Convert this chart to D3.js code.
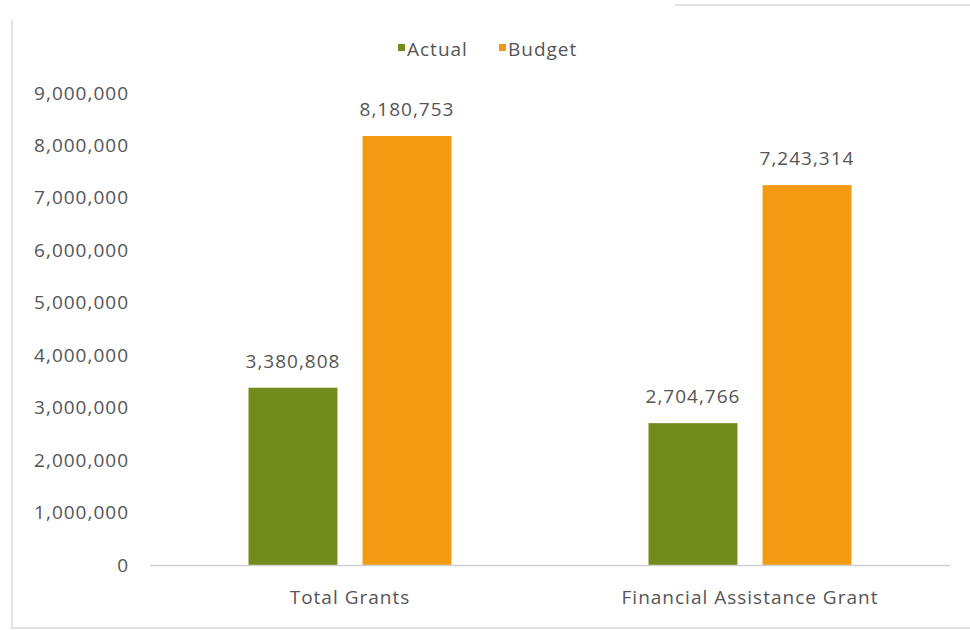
<!DOCTYPE html>
<html>
<head>
<meta charset="utf-8">
<script src="https://cdn.jsdelivr.net/npm/d3@7"></script>
<style>
  html, body { margin: 0; padding: 0; background: #fff; }
  svg { display: block; font-family: "Open Sans", "DejaVu Sans", sans-serif; }
  svg text { letter-spacing: 1px; }
</style>
</head>
<body>
<div id="chart"></div>
<script>
// ─── Data ─────────────────────────────────────────────
const categories = ["Total Grants", "Financial Assistance Grant"];
const seriesNames = ["Actual", "Budget"];
const actualValues = [3380808, 2704766];
const budgetValues = [8180753, 7243314];
const yTicks = [0, 1000000, 2000000, 3000000, 4000000, 5000000, 6000000, 7000000, 8000000, 9000000];

const colors = { Actual: "#738a1c", Budget: "#f29b12" };
const textColor = "#555";

// ─── Layout ───────────────────────────────────────────
const W = 970, H = 630;
const plot = { left: 150, right: 950, top: 93, bottom: 565 };

const svg = d3.select("#chart").append("svg")
    .attr("width", W)
    .attr("height", H);

// faint frame of the original chart box
svg.append("path")
    .attr("d", `M12,20 V628 H970 M675,5 H970`)
    .attr("fill", "none")
    .attr("stroke", "#e2e2e2")
    .attr("stroke-width", 2);

// ─── Scales ───────────────────────────────────────────
const x0 = d3.scaleBand()
    .domain(categories)
    .range([plot.left, plot.right])
    .paddingInner(0.4925)
    .paddingOuter(0.24625);

const x1 = d3.scaleBand()
    .domain(seriesNames)
    .range([0, x0.bandwidth()])
    .paddingInner(0.22)
    .paddingOuter(0);

const y = d3.scaleLinear()
    .domain([0, 9000000])
    .range([plot.bottom, plot.top]);

const fmt = d3.format(",");

// ─── Y axis (labels only) ─────────────────────────────
const yAxis = svg.append("g")
    .attr("transform", `translate(${plot.left - 21},0)`)
    .call(d3.axisLeft(y).tickValues(yTicks).tickFormat(fmt).tickSize(0).tickPadding(0));
yAxis.select(".domain").remove();
yAxis.selectAll("text")
    .attr("fill", textColor)
    .style("font-size", "19px")
    .style("font-family", "'Open Sans', sans-serif");

// ─── Bars ─────────────────────────────────────────────
const rows = categories.map((c, i) => ({
    category: c,
    values: [
        { key: "Actual", value: actualValues[i] },
        { key: "Budget", value: budgetValues[i] }
    ]
}));

const groups = svg.append("g")
    .selectAll("g")
    .data(rows)
    .join("g")
    .attr("transform", d => `translate(${x0(d.category)},0)`);

groups.selectAll("rect")
    .data(d => d.values)
    .join("rect")
    .attr("x", d => x1(d.key))
    .attr("y", d => y(d.value))
    .attr("width", x1.bandwidth())
    .attr("height", d => y(0) - y(d.value))
    .attr("fill", d => colors[d.key]);

groups.selectAll("text.val")
    .data(d => d.values)
    .join("text")
    .attr("class", "val")
    .attr("x", d => x1(d.key) + x1.bandwidth() / 2)
    .attr("y", d => y(d.value) - 20)
    .attr("text-anchor", "middle")
    .attr("fill", textColor)
    .style("font-size", "19px")
    .text(d => fmt(d.value));

// ─── X axis ───────────────────────────────────────────
svg.append("line")
    .attr("x1", plot.left)
    .attr("x2", plot.right)
    .attr("y1", y(0) + 0.5)
    .attr("y2", y(0) + 0.5)
    .attr("stroke", "#d0d0d0")
    .attr("stroke-width", 1.5);

svg.append("g")
    .selectAll("text")
    .data(categories)
    .join("text")
    .attr("x", d => x0(d) + x0.bandwidth() / 2)
    .attr("y", 604)
    .attr("text-anchor", "middle")
    .attr("fill", textColor)
    .style("font-size", "19px")
    .text(d => d);

// ─── Legend ───────────────────────────────────────────
const legendPos = [398, 499];
const legend = svg.append("g")
    .selectAll("g")
    .data(seriesNames)
    .join("g")
    .attr("transform", (d, i) => `translate(${legendPos[i]},0)`);

legend.append("rect")
    .attr("x", 0)
    .attr("y", 44)
    .attr("width", 7)
    .attr("height", 7)
    .attr("fill", d => colors[d]);

legend.append("text")
    .attr("x", 9)
    .attr("y", 56)
    .attr("fill", textColor)
    .style("font-size", "19px")
    .text(d => d);
</script>
</body>
</html>
